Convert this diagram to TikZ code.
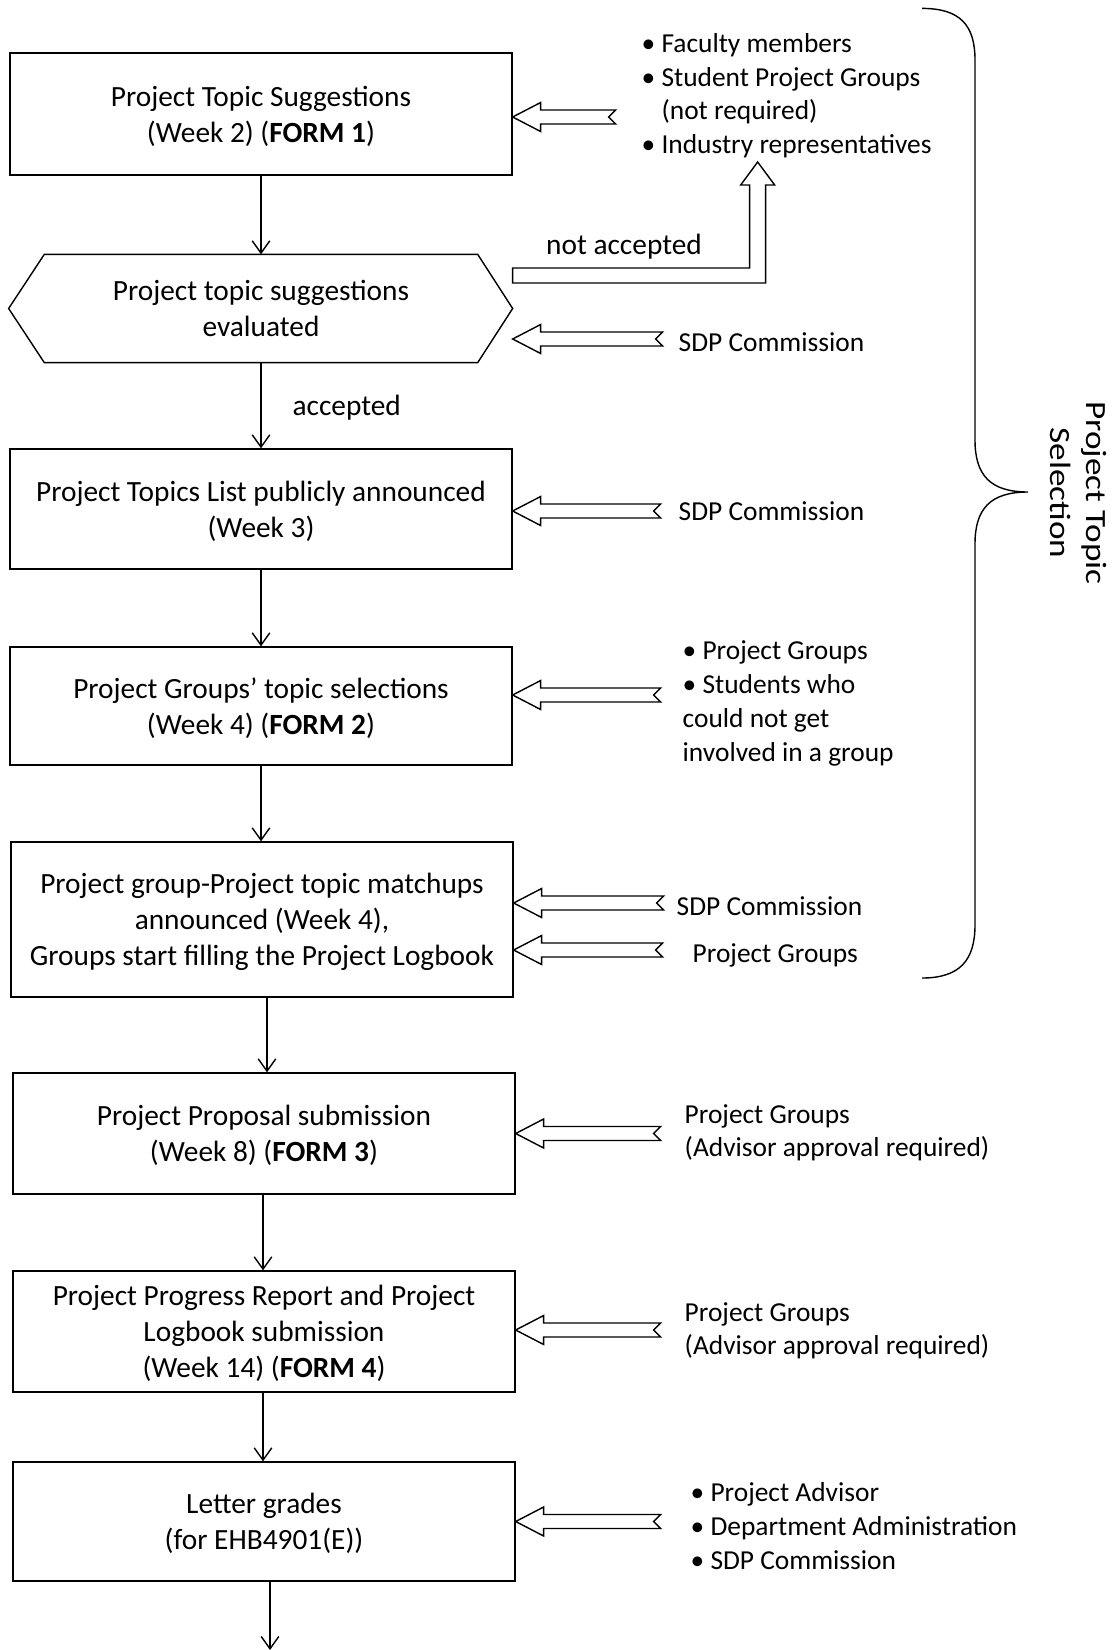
\documentclass[tikz,border=0pt]{standalone}
\usepackage{fontspec}
\setmainfont{Carlito}
\usetikzlibrary{arrows.meta}
\usetikzlibrary{calc}
\usetikzlibrary{positioning}

\newcommand{\boxfont}{\fontsize{16.7}{20.5}\selectfont}
\newcommand{\lblfont}{\fontsize{15.6}{19.2}\selectfont}

\begin{document}
\begin{tikzpicture}[
  x=0.02cm, y=-0.02cm,
  line width=0.8pt,
  > = {Straight Barb[length=7pt,width=10pt]},
  stepbox/.style = {draw, align=center, minimum width=10.04cm, inner sep=0pt, text depth=0pt, font=\boxfont},
  lbl/.style = {align=left, inner sep=0pt, text depth=0pt, font=\lblfont},
  pics/inarrow/.style = {code={
    \draw (0,0) -- (28,-14.5) -- (28,-7) -- ({#1},-7) -- ({#1-7},0) -- ({#1},7) -- (28,7) -- (28,14.5) -- cycle;}}
  ]
	\useasboundingbox (0,0) rectangle (1112,1650);

	% process steps
	\node[stepbox, minimum height=2.44cm] (sugg) at (261,114) {Project Topic Suggestions\\(Week 2) (\textbf{FORM 1})};
	\node[align=center, font=\boxfont, inner sep=0pt, minimum width=8.64cm, minimum height=2.14cm] (eval) at (261,308.5) {Project topic suggestions\\evaluated};
	\draw (eval.north west) -- (eval.north east) -- ($(eval.east)+(35,0)$) -- (eval.south east) -- (eval.south west) -- ($(eval.west)+(-35.7,0)$) -- cycle;
	\node[stepbox, minimum height=2.4cm] (topics) at (261,509) {Project Topics List publicly announced\\(Week 3)};
	\node[stepbox, minimum height=2.36cm] (groups) at (261,706) {Project Groups’ topic selections\\(Week 4) (\textbf{FORM 2})};
	\node[stepbox, minimum height=3.1cm] (match) at (262,919.5) {Project group-Project topic matchups\\announced (Week 4),\\Groups start filling the Project Logbook};
	\node[stepbox, minimum height=2.42cm] (proposal) at (264,1133.5) {Project Proposal submission\\(Week 8) (\textbf{FORM 3})};
	\node[stepbox, minimum height=2.42cm] (progress) at (264,1331.5) {Project Progress Report and Project\\Logbook submission\\(Week 14) (\textbf{FORM 4})};
	\node[stepbox, minimum height=2.38cm] (grades) at (264,1521.5) {Letter grades\\(for EHB4901(E))};
	\coordinate (out) at (270,1650);

	\draw[->] (sugg.south) -- (eval.north);
	\draw[->] (eval.south) -- node[anchor=west, xshift=0.5cm, text depth=0pt, font=\boxfont] (acc) {accepted} (topics.north);
	\draw[->] (topics.south) -- (groups.north);
	\draw[->] (groups.south) -- (groups.south |- match.north);
	\draw[->] ($(match.south)+(5,0)$) coordinate (m0) -- (m0 |- proposal.north);
	\draw[->] ($(proposal.south)+(-1,0)$) coordinate (p0) -- (p0 |- progress.north);
	\draw[->] ($(progress.south)+(-1,0)$) coordinate (r0) -- (r0 |- grades.north);
	\draw[->] ($(grades.south)+(6,0)$) coordinate (g0) -- (g0 |- out);

	% inputs
	\node[lbl, anchor=west] (src) at (641,93.5) {\textbullet\ Faculty members\\\textbullet\ Student Project Groups\\\phantom{\textbullet\ }(not required)\\\textbullet\ Industry representatives};
	\node[lbl, anchor=west] (sdp1) at (678,342) {SDP Commission};
	\node[lbl, anchor=west] (sdp2) at (678,511) {SDP Commission};
	\node[lbl, anchor=west] (stud) at (682,701) {\textbullet\ Project Groups\\\textbullet\ Students who\\could not get\\involved in a group};
	\node[lbl, anchor=west] (sdp3) at (676,906) {SDP Commission};
	\node[lbl, anchor=west] (pg1) at (692,953) {Project Groups};
	\node[lbl, anchor=west] (pg2) at (684,1130.5) {Project Groups\\(Advisor approval required)};
	\node[lbl, anchor=west] (pg3) at (684,1328.5) {Project Groups\\(Advisor approval required)};
	\node[lbl, anchor=west] (staff) at (690,1526) {\textbullet\ Project Advisor\\\textbullet\ Department Administration\\\textbullet\ SDP Commission};

	\pic at ($(sugg.east)+(0,3)$) {inarrow=103};
	\pic at ($(eval.east)+(35,30.5)$) {inarrow=150};
	\pic at ($(topics.east)+(0,2)$) {inarrow=148};
	\pic at ($(groups.east)+(0,-11)$) {inarrow=148};
	\pic at ($(match.east)+(0,-16.5)$) {inarrow=150};
	\pic at ($(match.east)+(0,30.5)$) {inarrow=149};
	\pic at (proposal.east) {inarrow=145};
	\pic at ($(progress.east)+(0,-1.5)$) {inarrow=145};
	\pic at (grades.east) {inarrow=145};

	% rejected suggestions go back
	\draw ($(eval.east)+(35,-40.5)$) coordinate (na) -- ++(237,0) -- ++(0,-83) -- ++(-9,0) -- ++(17,-23) -- ++(17,23) -- ++(-9,0) -- ++(0,98) -- ($(na)+(0,15)$) -- cycle;
	\node[font=\boxfont, text depth=0pt] (notacc) at (624,244) {not accepted};

	% phase brace
	\draw (922,8.4) .. controls (960,8.4) and (975,25) .. (975,60) -- (975,440) .. controls (975,475) and (990,492) .. (1028,492) .. controls (990,492) and (975,509) .. (975,544) -- (975,925) .. controls (975,960) and (960,978) .. (922,978);
	\node[align=center, font=\boxfont, rotate=-90] (phase) at (1078,493) {\scalebox{1.2}[1]{Project Topic}\\\scalebox{1.2}[1]{Selection}};

\end{tikzpicture}
\end{document}
